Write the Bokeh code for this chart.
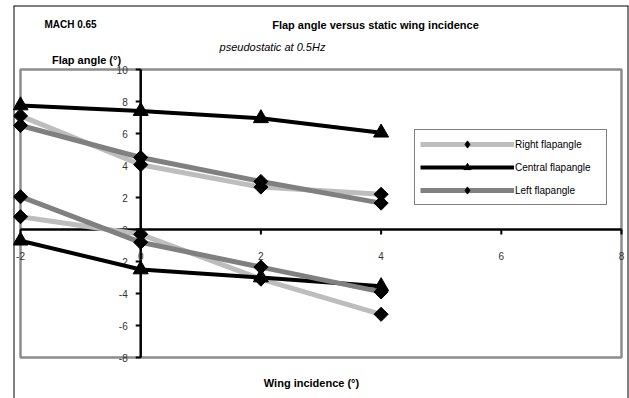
import numpy as np
from bokeh.plotting import figure
from bokeh.models import Range1d, Span, Legend, LegendItem
from bokeh.core.properties import value
from bokeh.embed import file_html
from bokeh.resources import INLINE

# ---------------- data ----------------
incidence = [-2, 0, 2, 4]
right_up = [7.1, 4.05, 2.65, 2.2]
right_down = [0.8, -0.3, -3.1, -5.3]
central_up = [7.75, 7.4, 6.95, 6.05]
central_down = [-0.7, -2.5, -3.0, -3.55]
left_up = [6.5, 4.5, 3.0, 1.65]
left_down = [2.05, -0.8, -2.35, -3.9]

x_ticks = [-2, 0, 2, 4, 6, 8]
y_ticks = [-8, -6, -4, -2, 0, 2, 4, 6, 8, 10]
x_tick_labels = [str(v) for v in x_ticks]
y_tick_labels = [str(v) for v in y_ticks]

series_names = ["Right flapangle", "Central flapangle", "Left flapangle"]

# ---------------- layout ----------------
W, H = 629, 398
X0_PX, X_SCALE = 140.2, 60.1     # page px of x=0, px per unit
Y0_PX, Y_SCALE = 229.0, 16.0     # page px of y=0, px per unit
FRAME_L, FRAME_R, FRAME_T, FRAME_B = 13, 628, 5, 398


def px_x(px):
    return (px - X0_PX) / X_SCALE


def px_y(py):
    return (Y0_PX - py) / Y_SCALE


FONT_NAME = "Liberation Sans"
FONT = value(FONT_NAME)

p = figure(width=W, height=H, output_backend="svg", toolbar_location=None,
           x_axis_type=None, y_axis_type=None,
           x_range=Range1d(px_x(FRAME_L), px_x(FRAME_R)),
           y_range=Range1d(px_y(FRAME_B), px_y(FRAME_T)),
           min_border_left=FRAME_L, min_border_right=W - FRAME_R,
           min_border_top=FRAME_T, min_border_bottom=H - FRAME_B)
p.outline_line_color = None
p.background_fill_color = "white"
p.border_fill_color = "white"

xmin, xmax = x_ticks[0], x_ticks[-1]
ymin, ymax = y_ticks[0], y_ticks[-1]

# outer chart border
for loc, dim in [(px_x(FRAME_L), "height"), (px_x(FRAME_R), "height"), (px_y(FRAME_T), "width")]:
    p.add_layout(Span(location=loc, dimension=dim, line_color="black", line_width=2))

# plot area
p.quad(left=[xmin], right=[xmax], bottom=[ymin], top=[ymax], fill_color="white",
       line_color="#8c8c8c", line_width=2.5)

# axes crossing at zero
p.line(x=[xmin, xmax], y=[0, 0], line_color="black", line_width=2.5)
p.line(x=[0, 0], y=[ymin, ymax], line_color="black", line_width=2.5)
tick_dx = 5 / X_SCALE
tick_dy = 5 / Y_SCALE
p.segment(x0=x_ticks, y0=[0] * len(x_ticks), x1=x_ticks, y1=[-tick_dy] * len(x_ticks),
          line_color="black", line_width=2)
p.segment(x0=[0] * len(y_ticks), y0=y_ticks, x1=[-tick_dx] * len(y_ticks), y1=y_ticks,
          line_color="black", line_width=2)

p.text(x=[0] * len(y_ticks), y=y_ticks, text=y_tick_labels, x_offset=-13,
       text_align="right", text_baseline="middle", text_font=FONT,
       text_font_size="10px", text_color="#333333")
p.text(x=x_ticks, y=[0] * len(x_ticks), text=x_tick_labels, y_offset=26,
       text_align="center", text_baseline="middle", text_font=FONT,
       text_font_size="10px", text_color="#333333")

# ---------------- series ----------------
def branch(up, down):
    xs = list(incidence) + [np.nan] + list(incidence)
    ys = list(up) + [np.nan] + list(down)
    return xs, ys


renderers = []
specs = [
    (right_up, right_down, "#bdbdbd", 5, "square", np.pi / 4, 10, "diamond"),
    (central_up, central_down, "black", 4, "triangle", 0, 15, "triangle"),
    (left_up, left_down, "#808080", 5, "square", np.pi / 4, 10, "diamond"),
]
for up, down, color, lw, marker, ang, size, leg_marker in specs:
    xs, ys = branch(up, down)
    rl = p.line(x=xs, y=ys, line_color=color, line_width=lw)
    rs = p.scatter(x=xs, y=ys, marker=marker, angle=ang, size=size,
                   fill_color="black", line_color="black")
    # same points with an upright marker, hidden on the plot, used for the legend key
    rk = p.scatter(x=xs, y=ys, marker=leg_marker, size=size,
                   fill_color="black", line_color="black", visible=False)
    renderers.append((rl, rk))

legend = Legend(items=[LegendItem(label=n, renderers=list(r)) for n, r in zip(series_names, renderers)],
                location=(414 - FRAME_L, FRAME_B - 205), orientation="vertical",
                glyph_width=94, glyph_height=18, label_height=18, label_width=86,
                spacing=5, padding=5, margin=0, label_standoff=1,
                border_line_color="black", border_line_width=1,
                background_fill_color="white", background_fill_alpha=1,
                inactive_fill_alpha=0,
                label_text_font=FONT_NAME, label_text_font_size="10px", label_text_color="black")
p.add_layout(legend)

# ---------------- texts ----------------
p.text(x=[px_x(70)], y=[px_y(24)], text=["MACH 0.65"], text_align="center",
       text_baseline="middle", text_font=FONT, text_font_style="bold",
       text_font_size="10px", text_color="black")
p.text(x=[px_x(375)], y=[px_y(24)], text=["Flap angle versus static wing incidence"],
       text_align="center", text_baseline="middle", text_font=FONT,
       text_font_style="bold", text_font_size="11px", text_color="black")
p.text(x=[px_x(272)], y=[px_y(46)], text=["pseudostatic at 0.5Hz"], text_align="center",
       text_baseline="middle", text_font=FONT, text_font_style="italic",
       text_font_size="11px", text_color="black")
p.text(x=[px_x(86)], y=[px_y(59)], text=["Flap angle (°)"], text_align="center",
       text_baseline="middle", text_font=FONT, text_font_style="bold",
       text_font_size="11px", text_color="black")
p.text(x=[px_x(311)], y=[px_y(382)], text=["Wing incidence (°)"], text_align="center",
       text_baseline="middle", text_font=FONT, text_font_style="bold",
       text_font_size="11px", text_color="black")

open("out.html", "w").write(file_html(p, INLINE))
